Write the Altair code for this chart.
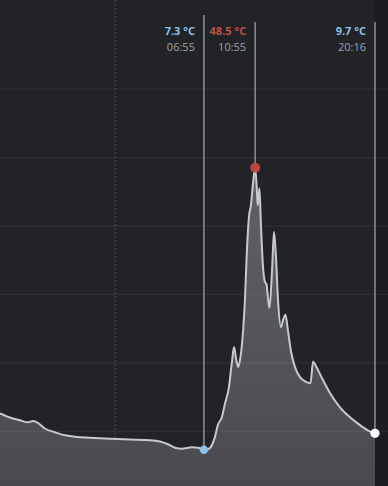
import altair as alt
import pandas as pd

# ---- data ----
times = [
    "2024-01-01T15:00", "2024-01-01T15:46", "2024-01-01T16:33", "2024-01-01T17:11",
    "2024-01-01T17:34", "2024-01-01T17:53", "2024-01-01T18:30", "2024-01-01T19:17",
    "2024-01-01T20:04", "2024-01-01T20:51", "2024-01-01T22:01", "2024-01-01T23:35",
    "2024-01-02T01:08", "2024-01-02T02:42", "2024-01-02T03:29", "2024-01-02T04:06",
    "2024-01-02T04:39", "2024-01-02T05:12", "2024-01-02T05:59", "2024-01-02T06:27",
    "2024-01-02T06:55", "2024-01-02T07:14", "2024-01-02T07:32", "2024-01-02T07:46",
    "2024-01-02T08:00", "2024-01-02T08:19", "2024-01-02T08:33", "2024-01-02T08:52",
    "2024-01-02T09:06", "2024-01-02T09:16", "2024-01-02T09:25", "2024-01-02T09:35",
    "2024-01-02T09:44", "2024-01-02T09:58", "2024-01-02T10:07", "2024-01-02T10:16",
    "2024-01-02T10:26", "2024-01-02T10:35", "2024-01-02T10:45", "2024-01-02T10:55",
    "2024-01-02T11:03", "2024-01-02T11:07", "2024-01-02T11:15", "2024-01-02T11:22",
    "2024-01-02T11:31", "2024-01-02T11:41", "2024-01-02T11:48", "2024-01-02T11:55",
    "2024-01-02T12:02", "2024-01-02T12:14", "2024-01-02T12:23", "2024-01-02T12:32",
    "2024-01-02T12:42", "2024-01-02T12:56", "2024-01-02T13:05", "2024-01-02T13:17",
    "2024-01-02T13:28", "2024-01-02T13:42", "2024-01-02T14:01", "2024-01-02T14:25",
    "2024-01-02T14:53", "2024-01-02T15:14", "2024-01-02T15:26", "2024-01-02T15:40",
    "2024-01-02T16:08", "2024-01-02T16:46", "2024-01-02T17:32", "2024-01-02T18:19",
    "2024-01-02T19:06", "2024-01-02T19:44", "2024-01-02T20:16",
]
temps = [
    12.6, 12.0, 11.6, 11.3,
    11.5, 11.3, 10.4, 9.85,
    9.4, 9.2, 9.05, 8.9,
    8.8, 8.7, 8.5, 8.1,
    7.6, 7.45, 7.65, 7.6,
    7.3, 7.35, 7.95, 9.1,
    10.9, 12.05, 13.95, 16.4,
    20.1, 22.3, 20.7, 19.4,
    20.4, 24.5, 29.15, 36.2,
    41.4, 43.0, 46.3, 48.5,
    45.2, 43.0, 45.5, 40.1,
    34.3, 31.8, 31.5, 29.4,
    28.0, 33.5, 39.1, 35.7,
    29.15, 25.2, 26.2, 27.0,
    24.8, 21.8, 19.4, 17.9,
    17.2, 17.0, 20.2, 19.5,
    17.75, 15.55, 13.5, 12.05,
    10.9, 10.1, 9.7,
]

marker_times = ["2024-01-02T06:55", "2024-01-02T10:55", "2024-01-02T20:16"]
marker_temps = [7.3, 48.5, 9.7]
marker_labels = ["7.3 °C", "48.5 °C", "9.7 °C"]
marker_clock = ["06:55", "10:55", "20:16"]
marker_colors = ["#8fc3ea", "#b9463f", "#ffffff"]
marker_sizes = [70, 100, 85]
label_colors = ["#8ec0e6", "#c0504a", "#8ec0e6"]
rule_tops = [15, 22, 22]

grid_values = [10, 20, 30, 40, 50, 60]
midnight = ["2024-01-02T00:00"]
end_time = ["2024-01-02T20:16"]

W, H = 388, 486

df = pd.DataFrame({"t": times, "temp": temps})
mk = pd.DataFrame({
    "t": marker_times, "temp": marker_temps, "label": marker_labels,
    "clock": marker_clock, "mcolor": marker_colors, "lcolor": label_colors,
    "msize": marker_sizes,
})
grid = pd.DataFrame({"v": grid_values})
mid = pd.DataFrame({"t": midnight})
endd = pd.DataFrame({"t": end_time})

xscale = alt.Scale(domain=[
    alt.DateTime(year=2024, month=1, date=1, hours=15, minutes=0),
    alt.DateTime(year=2024, month=1, date=2, hours=21, minutes=17),
])
yscale = alt.Scale(domain=[2, 73], zero=False, nice=False)

X = alt.X("t:T", scale=xscale, axis=None)
Y = alt.Y("temp:Q", scale=yscale, axis=None)

strip = alt.Chart(endd).mark_rect(color="#1c1d21").encode(
    x=alt.X("t:T", scale=xscale, axis=None),
    x2=alt.value(W), y=alt.value(0), y2=alt.value(H),
)

gridlines = alt.Chart(grid).mark_rule(color="#ffffff", opacity=0.07, strokeWidth=1).encode(
    y=alt.Y("v:Q", scale=yscale, axis=None)
)

midline = alt.Chart(mid).mark_rule(color="#4a4c52", strokeDash=[2, 2], strokeWidth=1).encode(
    x=alt.X("t:T", scale=xscale, axis=None), y=alt.value(0), y2=alt.value(H)
)

area = alt.Chart(df).mark_area(
    interpolate="monotone",
    line=False,
    color=alt.Gradient(
        gradient="linear",
        stops=[alt.GradientStop(color="#606267", offset=0),
               alt.GradientStop(color="#47494f", offset=1)],
        x1=0, x2=0, y1=0, y2=1,
    ),
).encode(x=X, y=Y, y2=alt.value(H))

line = alt.Chart(df).mark_line(interpolate="monotone", color="#c6c9ce", strokeWidth=2).encode(x=X, y=Y)

rule_layers = []
for i in range(3):
    sub = mk.iloc[[i]]
    rule_layers.append(
        alt.Chart(sub).mark_rule(color="#8d9096", strokeWidth=1.5).encode(
            x=X, y=Y, y2=alt.value(rule_tops[i])
        )
    )

points = alt.Chart(mk).mark_point(filled=True, opacity=1).encode(
    x=X, y=Y, color=alt.Color("mcolor:N", scale=None),
    size=alt.Size("msize:Q", scale=None, legend=None),
)

temp_text = alt.Chart(mk).mark_text(
    align="right", baseline="middle", dx=-9, font="Open Sans", fontSize=11, fontWeight="bold"
).encode(x=X, y=alt.value(32), text="label:N", color=alt.Color("lcolor:N", scale=None))

clock_text = alt.Chart(mk).mark_text(
    align="right", baseline="middle", dx=-9, font="Open Sans", fontSize=11, color="#9ea2a8"
).encode(x=X, y=alt.value(48), text="clock:N")

chart = alt.layer(
    strip, midline, area, gridlines, line, *rule_layers, points, temp_text, clock_text
).properties(
    width=W, height=H, background="#222327", padding=0,
    autosize=alt.AutoSizeParams(type="none"),
).configure_view(stroke=None)

chart.save("out.html", embed_options={"renderer": "svg", "actions": False})
